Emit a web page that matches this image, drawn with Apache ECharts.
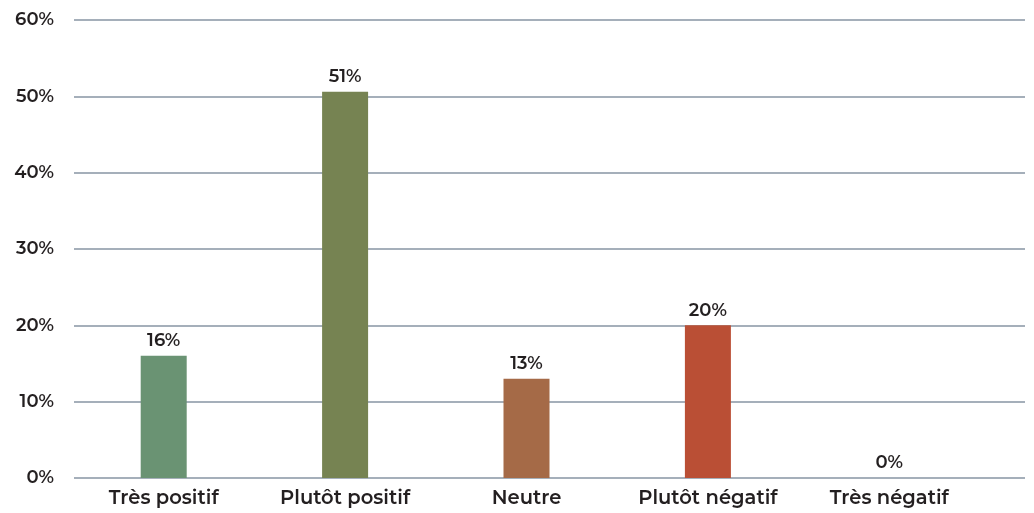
<!DOCTYPE html>
<html>
<head>
<meta charset="utf-8">
<script src="https://cdn.jsdelivr.net/npm/echarts@6/dist/echarts.min.js"></script>
<style>
  html, body { margin: 0; padding: 0; background: #ffffff; }
  #chart { width: 1034px; height: 513px; }
</style>
</head>
<body>
<div id="chart"></div>
<script>
// Répartition des opinions
const categories = ['Très positif', 'Plutôt positif', 'Neutre', 'Plutôt négatif', 'Très négatif'];
const values = [16, 50.6, 13, 20, 0];
const barColors = ['#6a9373', '#768352', '#a56a47', '#ba4f35', '#888888'];
const yTicks = [0, 10, 20, 30, 40, 50, 60];

const FONT = 'Montserrat, Inter, "Noto Sans", sans-serif';
const TEXT = '#231f20';
const GRID = '#8795a3';

const chart = echarts.init(document.getElementById('chart'), null, { renderer: 'canvas' });

chart.setOption({
  animation: false,
  grid: [
    // horizontal guides spanning the full width
    { left: 74, right: 9, top: 20, bottom: 35 },
    // bars and category labels
    { left: 73, right: 54, top: 20, bottom: 35 }
  ],
  xAxis: [
    { gridIndex: 0, type: 'value', show: false, min: 0, max: 1 },
    {
      gridIndex: 1, type: 'category', data: categories,
      axisLine: { show: false }, axisTick: { show: false },
      axisLabel: { color: TEXT, fontFamily: FONT, fontSize: 19.5, fontWeight: 600, margin: 10 }
    }
  ],
  yAxis: [
    {
      gridIndex: 0, type: 'value', min: yTicks[0], max: yTicks[yTicks.length - 1], interval: 10,
      axisLine: { show: false }, axisTick: { show: false },
      axisLabel: { color: TEXT, fontFamily: FONT, fontSize: 18, fontWeight: 600, margin: 20, formatter: '{value}%' },
      splitLine: { lineStyle: { color: GRID, width: 1.5 } }
    },
    {
      gridIndex: 1, type: 'value', min: yTicks[0], max: yTicks[yTicks.length - 1], interval: 10,
      show: false, splitLine: { show: false }
    }
  ],
  series: [{
    type: 'bar',
    xAxisIndex: 1, yAxisIndex: 1,
    barWidth: 46,
    data: values.map((v, i) => ({ value: v, itemStyle: { color: barColors[i] } })),
    label: {
      show: true, position: 'top', distance: 6,
      color: TEXT, fontFamily: FONT, fontSize: 18, fontWeight: 600,
      formatter: p => Math.round(p.value) + '%'
    }
  }]
});
</script>
</body>
</html>
